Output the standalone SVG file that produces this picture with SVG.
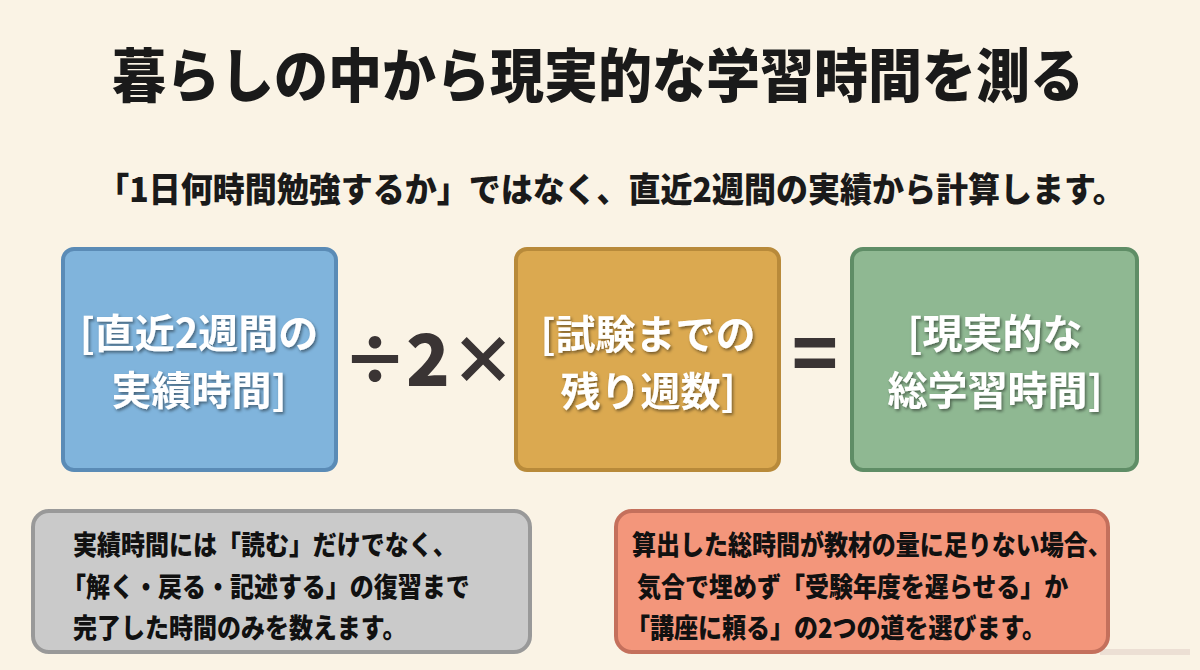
<svg xmlns="http://www.w3.org/2000/svg" width="1200" height="670" viewBox="0 0 1200 670">
  <defs>
    <filter id="txtShadow" x="-10%" y="-20%" width="120%" height="150%">
      <feDropShadow dx="1.5" dy="2" stdDeviation="1.5" flood-color="#000000" flood-opacity="0.45"/>
    </filter>
  </defs>
  <style>
    .title { font-family: "Noto Sans CJK JP", sans-serif; font-weight: 900; font-size: 54px; fill: #1a1a1a; }
    .sub { font-family: "Noto Sans CJK JP", sans-serif; font-weight: 900; font-size: 32px; fill: #1a1a1a; }
    .box { stroke-width: 4; }
    .btxt { font-family: "Noto Sans CJK JP", sans-serif; font-weight: 700; font-size: 40px; fill: #ffffff; text-anchor: middle; filter: url(#txtShadow); }
    .op { font-family: "Noto Sans CJK JP", sans-serif; font-weight: 900; fill: #3a3434; text-anchor: middle; }
    .note { font-family: "Noto Sans CJK JP", sans-serif; font-weight: 900; font-size: 24px; fill: #111111; }
  </style>
  <rect x="0" y="0" width="1200" height="670" fill="#faf3e5"/>

  <g id="title">
    <text class="title" transform="translate(598,97) scale(1,1.08)" x="0" y="0" text-anchor="middle">暮らしの中から現実的な学習時間を測る</text>
  </g>
  <g id="subtitle">
    <text class="sub" transform="translate(611,202) scale(1,1.05)" x="0" y="0" text-anchor="middle">「1日何時間勉強するか」ではなく、直近2週間の実績から計算します。</text>
  </g>

  <g id="node-recent">
    <rect class="box" x="63" y="249" width="273" height="221" rx="11" fill="#80b4dc" stroke="#5a8bb6"/>
    <text class="btxt" x="199" y="348">[直近2週間の</text>
    <text class="btxt" x="199" y="405">実績時間]</text>
  </g>

  <g id="connectors">
    <text class="op" x="375" y="384" font-size="66">÷</text>
    <text class="op" x="428" y="386" font-size="72">2</text>
    <text class="op" x="483" y="384" font-size="66">×</text>
    <text class="op" x="815" y="382" font-size="76">=</text>
  </g>

  <g id="node-weeks">
    <rect class="box" x="516" y="249" width="263" height="221" rx="11" fill="#dba950" stroke="#b88a3a"/>
    <text class="btxt" x="648" y="349">[試験までの</text>
    <text class="btxt" x="648" y="406">残り週数]</text>
  </g>

  <g id="node-total">
    <rect class="box" x="852" y="249" width="285" height="221" rx="11" fill="#8fb892" stroke="#5f8d66"/>
    <text class="btxt" x="995" y="348">[現実的な</text>
    <text class="btxt" x="995" y="405">総学習時間]</text>
  </g>

  <g id="note-left">
    <rect class="box" x="33" y="511" width="497" height="141" rx="16" fill="#cacaca" stroke="#999999"/>
    <text class="note" transform="translate(73,555) scale(1,1.13)">実績時間には「読む」だけでなく、</text>
    <text class="note" transform="translate(62,597) scale(1,1.13)">「解く・戻る・記述する」の復習まで</text>
    <text class="note" transform="translate(73,638) scale(1,1.13)">完了した時間のみを数えます。</text>
  </g>

  <g id="note-right">
    <rect x="1100" y="649" width="90" height="6" fill="#e8d9cf" opacity="0.8"/>
    <rect class="box" x="616" y="511" width="492" height="141" rx="16" fill="#f3967b" stroke="#c4705c"/>
    <text class="note" transform="translate(632,555) scale(1,1.13)">算出した総時間が教材の量に足りない場合、</text>
    <text class="note" transform="translate(637,597) scale(1,1.13)">気合で埋めず「受験年度を遅らせる」か</text>
    <text class="note" transform="translate(626,638) scale(1,1.13)">「講座に頼る」の2つの道を選びます。</text>
  </g>
</svg>
